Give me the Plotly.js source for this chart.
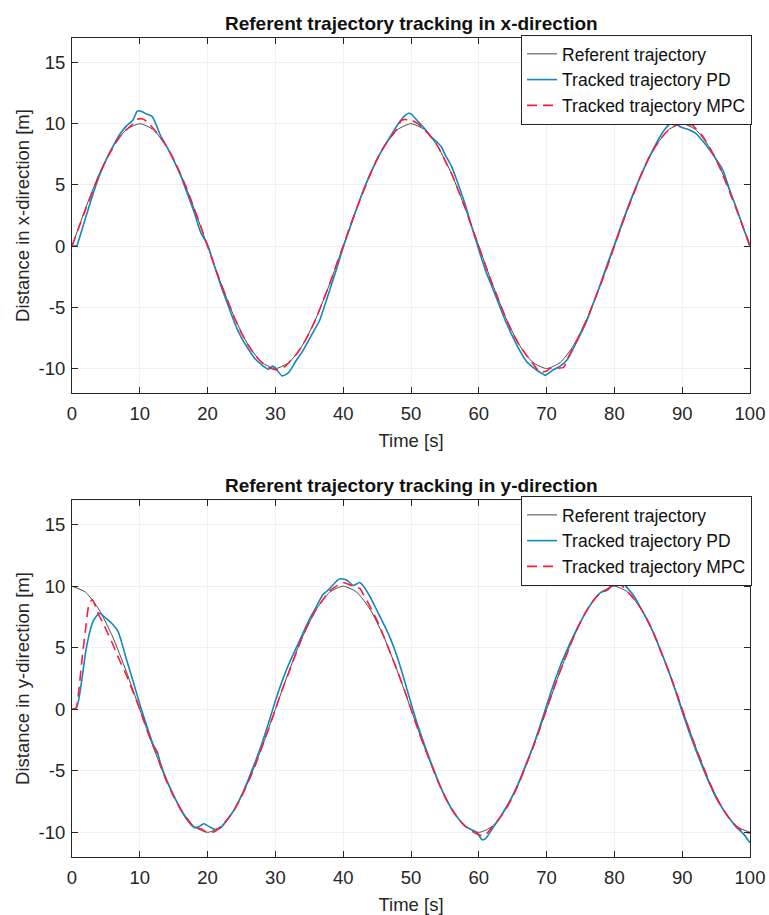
<!DOCTYPE html>
<html>
<head>
<meta charset="utf-8">
<script src="https://cdn.plot.ly/plotly-3.0.1.min.js"></script>
<style>html,body{margin:0;padding:0;background:#fff;}#chart{width:769px;height:915px;}</style>
</head>
<body>
<div id="chart"></div>
<script>
// ---------- Data ----------
const seriesNames = ["Referent trajectory", "Tracked trajectory PD", "Tracked trajectory MPC"];
const xTickVals = [0, 10, 20, 30, 40, 50, 60, 70, 80, 90, 100];
const xTickText = ["0", "10", "20", "30", "40", "50", "60", "70", "80", "90", "100"];
const yTickVals = [-10, -5, 0, 5, 10, 15];
const yTickText = ["-10", "-5", "0", "5", "10", "15"];

// Referent trajectory (both panels), sampled every 2 s
const tRef = [0,2,4,6,8,10,12,14,16,18,20,22,24,26,28,30,32,34,36,38,40,42,44,46,48,50,52,54,56,58,60,62,64,66,68,70,72,74,76,78,80,82,84,86,88,90,92,94,96,98,100];
const refX = [0,3.09,5.88,8.09,9.51,10,9.51,8.09,5.88,3.09,0,-3.09,-5.88,-8.09,-9.51,-10,-9.51,-8.09,-5.88,-3.09,0,3.09,5.88,8.09,9.51,10,9.51,8.09,5.88,3.09,0,-3.09,-5.88,-8.09,-9.51,-10,-9.51,-8.09,-5.88,-3.09,0,3.09,5.88,8.09,9.51,10,9.51,8.09,5.88,3.09,0];
const refY = [10,9.51,8.09,5.88,3.09,0,-3.09,-5.88,-8.09,-9.51,-10,-9.51,-8.09,-5.88,-3.09,0,3.09,5.88,8.09,9.51,10,9.51,8.09,5.88,3.09,0,-3.09,-5.88,-8.09,-9.51,-10,-9.51,-8.09,-5.88,-3.09,0,3.09,5.88,8.09,9.51,10,9.51,8.09,5.88,3.09,0,-3.09,-5.88,-8.09,-9.51,-10];

// PD, x-direction
const tPdX = [0,0.7,1,2,3,4,5,6,7,8,9,9.6,10,11,11.8,12.5,13,14,15,16,17,18,19,20,21,22,23,24,25,26,27,28,29,29.6,30,31,32,33,34,35,36,36.5,37,38,39,40,41,42,43,44,45,46,47,48,49,49.6,50,51,52,53,54,54.5,55,56,57,58,59,60,61,62,63,64,65,66,67,68,69,69.8,70,71,72,73,74,75,76,77,78,79,80,81,82,83,84,85,86,87,88,88.6,89.7,91,92,93,94,95,96,97,98,99,100];
const pdX = [0,0.05,0.5,2.3,4.1,5.7,7.0,8.1,9.1,9.8,10.3,11.0,11.05,10.8,10.6,9.8,9.1,8.1,7.0,5.8,4.3,2.8,1.1,0.1,-1.6,-3.3,-4.8,-6.3,-7.5,-8.4,-9.2,-9.7,-10.05,-9.8,-9.95,-10.6,-10.3,-9.4,-8.6,-7.6,-6.6,-6.1,-5.3,-3.6,-1.9,-0.1,1.5,3.1,4.6,5.9,7.1,8.1,9.0,9.9,10.6,10.85,10.8,10.2,9.6,8.9,8.4,8.1,7.5,6.5,5.0,3.4,1.5,-0.3,-2.0,-3.4,-4.8,-6.2,-7.4,-8.5,-9.4,-9.9,-10.3,-10.55,-10.5,-10.1,-9.8,-9.3,-8.3,-7.2,-6.0,-4.5,-3.0,-1.4,0.1,1.7,3.2,4.6,5.9,7.1,8.2,9.2,9.9,10.2,9.75,9.5,9.2,8.6,7.9,7.1,6.2,4.6,3.1,1.5,0];

// MPC, x-direction
const tMpcX = [0,1,2,3,4,5,6,7,8,9,9.6,10.3,11,12,13,14,15,16,17,18,19,20,21,22,23,24,25,26,27,28,29,30,31,31.5,32,33,34,35,36,37,38,39,40,41,42,43,44,45,46,47,48,48.6,50,51,52,53,54,55,56,57,58,59,60,61,62,63,64,65,66,67,68,69,70,70.5,72.5,73,74,75,76,77,78,79,80,81,82,83,84,85,86,87,88,89,90,91,91.5,92,93,94,95,96,97,98,99,100];
const mpcX = [0,1.5,3.0,4.4,5.8,7.0,8.0,8.9,9.5,10.0,10.35,10.4,10.2,9.6,8.9,8.1,7.1,5.9,4.6,3.1,1.6,0,-1.6,-3.1,-4.5,-5.9,-7.1,-8.1,-8.9,-9.5,-9.9,-10.1,-9.95,-9.8,-9.5,-8.9,-8.1,-7.1,-5.9,-4.5,-3.1,-1.5,0,1.6,3.1,4.5,5.9,7.1,8.1,8.9,9.6,10.3,10.3,10.0,9.5,8.9,8.1,7.0,5.9,4.5,3.1,1.5,0,-1.6,-3.1,-4.5,-5.9,-7.1,-8.1,-8.9,-9.6,-10.3,-10.2,-10.0,-9.9,-9.3,-8.2,-7.1,-5.9,-4.5,-3.1,-1.6,0,1.6,3.1,4.5,5.9,7.1,8.1,8.9,9.5,9.85,9.95,9.9,9.9,9.6,9.0,8.1,7.1,5.8,4.4,3.0,1.5,0];

// PD, y-direction
const tPdY = [0,0.6,1,1.5,2,2.5,3,3.5,4.1,5,6,6.8,7.5,8,9,10,11,12,12.6,13,14,15,16,17,18,18.7,19.4,20,21,22,23,24,25,26,27,28,29,30,31,32,33,34,35,36,37,38,39,39.5,40.5,41.5,42.4,43,44,45,46,47,48,49,50,51,52,53,54,55,56,57,58,59,59.7,60.5,61,62,63,64,65,66,67,68,69,70,71,72,73,74,75,76,77,78,79,80.3,81,82,83,84,85,86,87,88,89,90,91,92,93,94,95,96,97,98,99,100];
const pdY = [0,0.1,0.8,2.6,4.6,6.0,7.0,7.5,7.8,7.4,6.9,6.3,5.1,4.1,2.3,0.4,-1.3,-2.9,-3.5,-4.3,-5.8,-7.0,-8.1,-9.0,-9.6,-9.55,-9.3,-9.45,-9.75,-9.6,-8.9,-8.1,-7.0,-5.7,-4.3,-2.8,-1.1,0.7,2.3,3.7,4.9,6.1,7.3,8.3,9.3,9.8,10.4,10.6,10.5,10.05,10.3,10.0,9.1,8.0,6.9,5.7,4.2,2.4,0.5,-1.3,-2.9,-4.4,-5.8,-7.1,-8.1,-8.9,-9.5,-9.8,-10.0,-10.6,-10.5,-9.7,-8.9,-8.0,-7.0,-5.8,-4.4,-3.0,-1.4,0.3,2.0,3.5,4.8,6.0,7.1,8.1,8.9,9.5,9.7,10.55,10.4,9.8,9.1,8.1,7.1,5.9,4.5,3.1,1.5,-0.2,-1.8,-3.3,-4.7,-6.0,-7.2,-8.1,-8.9,-9.6,-10.1,-10.85];

// MPC, y-direction
const tMpcY = [0,0.6,1,1.5,2,2.5,3,3.5,4,4.5,5,6,7,8,9,10,11,12,12.6,13,14,15,16,17,18,19,20,21,22,23,24,25,26,27,28,29,30,31,32,33,34,35,36,37,38,39,40,41,42,42.5,43,44,45,46,47,48,49,50,51,52,53,54,55,56,57,58,59,60,60.7,61.5,62,63,64,65,66,67,68,69,70,71,72,73,74,75,76,77,78,79,80.2,81,82,83,84,85,86,87,88,89,90,91,92,93,94,95,96,97,98,99,100];
const mpcY = [0,0.1,1.5,4.2,6.5,8.5,8.9,8.3,7.6,7.1,6.5,5.3,4.0,2.8,1.4,0,-1.6,-3.0,-3.6,-4.5,-5.9,-7.1,-8.1,-8.9,-9.6,-9.7,-10.0,-9.95,-9.5,-8.9,-8.1,-7.1,-5.9,-4.6,-3.1,-1.6,0,1.6,3.0,4.5,5.9,7.1,8.1,8.9,9.6,10.0,10.3,10.1,9.9,9.8,9.3,8.3,7.2,5.9,4.5,3.1,1.6,0,-1.6,-3.1,-4.5,-5.9,-7.1,-8.1,-8.9,-9.5,-9.9,-10.2,-10.3,-9.9,-9.5,-8.9,-8.1,-7.1,-5.9,-4.5,-3.1,-1.6,0,1.6,3.1,4.5,5.9,7.1,8.1,8.9,9.5,9.7,10.35,10.1,9.5,8.9,8.1,7.1,5.9,4.5,3.1,1.6,0,-1.6,-3.1,-4.5,-5.9,-7.1,-8.1,-8.9,-9.5,-9.9,-10.05];

// ---------- Styling ----------
const FONT = "Liberation Sans, Arial, Helvetica, sans-serif";
const AX = "#262626";
const C_REF = "#4a4a4a", C_PD = "#1486c0", C_MPC = "#ff1a3c";

function tr(x, y, i, xa, ya, leg) {
  const style = [
    {color: C_REF, width: 1},
    {color: C_PD, width: 1.6},
    {color: C_MPC, width: 1.6, dash: "10px,6px"}
  ][i];
  return {x: x, y: y, type: "scatter", mode: "lines", name: seriesNames[i],
          xaxis: xa, yaxis: ya, legend: leg, line: Object.assign({shape: "spline", smoothing: 0.6}, style)};
}

const data = [
  tr(tRef, refX, 0, "x", "y", "legend"),
  tr(tPdX, pdX, 1, "x", "y", "legend"),
  tr(tMpcX, mpcX, 2, "x", "y", "legend"),
  tr(tRef, refY, 0, "x2", "y2", "legend2"),
  tr(tPdY, pdY, 1, "x2", "y2", "legend2"),
  tr(tMpcY, mpcY, 2, "x2", "y2", "legend2")
];

function xax(anchor) {
  return {anchor: anchor, range: [0, 100], tickmode: "array", tickvals: xTickVals, ticktext: xTickText,
    ticks: "inside", ticklen: 6,
    tickcolor: AX, showline: true, linecolor: AX, linewidth: 1, mirror: "ticks",
    showgrid: true, gridcolor: "#f0f0f0", zeroline: false,
    tickfont: {family: FONT, size: 18.5, color: AX}, ticklabelstandoff: 4,
    title: {text: "Time [s]", font: {family: FONT, size: 18.5, color: AX}, standoff: 10}};
}
function yax(anchor, domain, label) {
  return {anchor: anchor, domain: domain, range: [-12, 17], tickmode: "array", tickvals: yTickVals, ticktext: yTickText,
    ticks: "inside", ticklen: 6,
    tickcolor: AX, showline: true, linecolor: AX, linewidth: 1, mirror: "ticks",
    showgrid: true, gridcolor: "#f0f0f0", zeroline: false,
    tickfont: {family: FONT, size: 18.5, color: AX}, ticklabelstandoff: 2,
    title: {text: label, font: {family: FONT, size: 18.5, color: AX}, standoff: 4}};
}
function leg(y) {
  return {x: 1.003, y: y, xanchor: "right", yanchor: "top", bgcolor: "#ffffff",
    bordercolor: AX, borderwidth: 1, font: {family: FONT, size: 17.5, color: "#111"},
    tracegroupgap: 0, itemwidth: 30, entrywidth: 210, entrywidthmode: "pixels"};
}

const layout = {
  width: 769, height: 915,
  margin: {l: 72, r: 19, t: 38, b: 58},
  paper_bgcolor: "#ffffff", plot_bgcolor: "#ffffff",
  showlegend: true,
  xaxis: xax("y"),
  yaxis: yax("x", [0.5665, 1], "Distance in x-direction [m]"),
  xaxis2: xax("y2"),
  yaxis2: yax("x2", [0, 0.4359], "Distance in y-direction [m]"),
  legend: leg(1.0037),
  legend2: leg(0.4408),
  annotations: [
    {text: "<b>Referent trajectory tracking in x-direction</b>", xref: "paper", yref: "paper",
     x: 0.5, y: 1.0183, xanchor: "center", yanchor: "middle", showarrow: false,
     font: {family: FONT, size: 19, color: "#111"}},
    {text: "<b>Referent trajectory tracking in y-direction</b>", xref: "paper", yref: "paper",
     x: 0.5, y: 0.453, xanchor: "center", yanchor: "middle", showarrow: false,
     font: {family: FONT, size: 19, color: "#111"}}
  ]
};

Plotly.newPlot("chart", data, layout, {staticPlot: true, displayModeBar: false});
</script>
</body>
</html>
